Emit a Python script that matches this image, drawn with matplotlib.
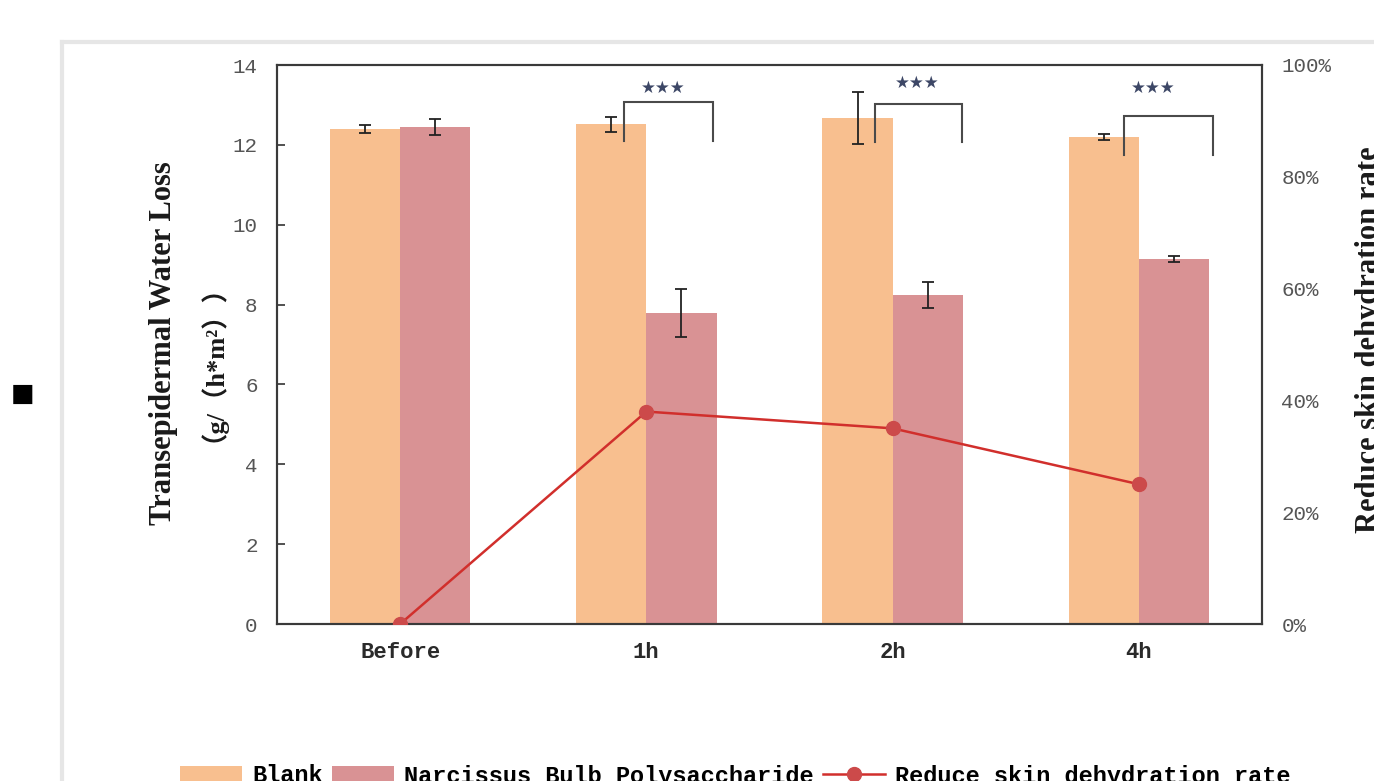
import matplotlib
matplotlib.use('Agg')
import matplotlib.pyplot as plt
import numpy as np
from matplotlib.lines import Line2D
from matplotlib.patches import Patch
from matplotlib.ticker import PercentFormatter

# ---------------- data ----------------
categories = ['Before', '1h', '2h', '4h']
blank = [12.40, 12.52, 12.67, 12.20]
blank_err = [0.10, 0.19, 0.65, 0.08]
nbp = [12.45, 7.79, 8.24, 9.14]
nbp_err = [0.20, 0.60, 0.33, 0.08]
rate = [0.0, 0.38, 0.35, 0.25]
sig_labels = ['', '★★★', '★★★', '★★★']
left_ticks = [0, 2, 4, 6, 8, 10, 12, 14]
right_ticks = [0, 0.2, 0.4, 0.6, 0.8, 1.0]
series_names = ['Blank', 'Narcissus Bulb Polysaccharide', 'Reduce skin dehydration rate']

# ---------------- layout / style ----------------
bracket_top = [None, 13.07, 13.02, 12.72]
bracket_bottom = [None, 12.10, 12.07, 11.75]
bracket_left = [None, -0.09, -0.07, -0.06]
bracket_right = [None, 0.27, 0.28, 0.30]
star_y = [None, 13.42, 13.55, 13.42]
star_dx = [None, 0.07, 0.10, 0.06]

c_blank = '#F8BF8F'
c_nbp = '#D99294'
c_line = '#D12F2C'
c_marker = '#CC4A4A'
tick_font = 'Liberation Mono'

W, H = 1374, 781
fig = plt.figure(figsize=(W / 100, H / 100), dpi=100)

ax = fig.add_axes([277 / W, 1 - 624 / H, (1262 - 277) / W, (624 - 65) / H])
x = np.arange(len(categories))
bw = 0.285

ax.bar(x - bw / 2, blank, bw, color=c_blank, zorder=2)
ax.bar(x + bw / 2, nbp, bw, color=c_nbp, zorder=2)
ax.errorbar(x - bw / 2, blank, yerr=blank_err, fmt='none', ecolor='#222222',
            elinewidth=1.3, capsize=4, capthick=1.3, zorder=3)
ax.errorbar(x + bw / 2, nbp, yerr=nbp_err, fmt='none', ecolor='#222222',
            elinewidth=1.3, capsize=4, capthick=1.3, zorder=3)

for i in range(len(categories)):
    if not sig_labels[i]:
        continue
    xl = x[i] + bracket_left[i]
    xr = x[i] + bracket_right[i]
    ax.plot([xl, xl, xr, xr], [bracket_bottom[i], bracket_top[i], bracket_top[i], bracket_bottom[i]],
            color='#4a4a4a', lw=1.5, zorder=4, solid_joinstyle='miter')
    ax.text(x[i] + star_dx[i], star_y[i], sig_labels[i], ha='center', va='center',
            fontsize=12, color='#3d4766', family='DejaVu Sans', zorder=5)

ax.set_xlim(-0.5, len(categories) - 0.5)
ax.set_ylim(0, 14)
ax.set_yticks(left_ticks)
ax.set_yticklabels([str(t) for t in left_ticks], family=tick_font, fontsize=15, color='#555555')
ax.tick_params(axis='y', direction='in', length=6, width=1.2, color='#333333', pad=14)
ax.set_xticks(x)
ax.set_xticklabels(categories, family=tick_font, fontsize=16, fontweight='bold', color='#2a2a2a')
ax.tick_params(axis='x', length=0, pad=13)
for s in ax.spines.values():
    s.set_color('#3a3a3a')
    s.set_linewidth(1.5)

ax2 = ax.twinx()
ax2.plot(x, rate, color=c_line, lw=1.8, marker='o', markersize=10,
         markerfacecolor=c_marker, markeredgecolor=c_marker, zorder=6)
ax2.set_ylim(0, 1)
ax2.set_yticks(right_ticks)
ax2.yaxis.set_major_formatter(PercentFormatter(1.0, decimals=0))
for lab in ax2.get_yticklabels():
    lab.set_family(tick_font)
    lab.set_fontsize(15)
    lab.set_color('#555555')
ax2.tick_params(axis='y', length=0, pad=14)
for s in ax2.spines.values():
    s.set_color('#3a3a3a')
    s.set_linewidth(1.5)

# axis titles
fig.text(163 / W, 1 - 343 / H, 'Transepidermal Water Loss', rotation=90, ha='center', va='center',
         family='Liberation Serif', fontweight='bold', fontsize=22, color='#1a1a1a')
fig.text(199 / W, 1 - 350 / H, '（g/（h*m²））', rotation=90, ha='center', va='center',
         family=['Liberation Serif', 'Noto Sans CJK SC'], fontweight='bold', fontsize=19, color='#1a1a1a')
fig.text(1370 / W, 1 - 340 / H, 'Reduce skin dehydration rate', rotation=90, ha='center', va='center',
         family='Liberation Serif', fontweight='bold', fontsize=22, color='#1a1a1a')

# outer frame lines (partial, as in screenshot)
fig.add_artist(Line2D([62 / W, 62 / W], [0, 1 - 42 / H], transform=fig.transFigure,
                      color='#e6e6e6', lw=3))
fig.add_artist(Line2D([62 / W, 1], [1 - 42 / H, 1 - 42 / H], transform=fig.transFigure,
                      color='#e6e6e6', lw=3))

# bullet square
fig.text(23 / W, 1 - 394 / H, '■', ha='center', va='center', fontsize=18,
         family='DejaVu Sans', color='black')

# legend
handles = [Patch(facecolor=c_blank, edgecolor='none'),
           Patch(facecolor=c_nbp, edgecolor='none'),
           Line2D([0], [0], color=c_line, lw=1.8, marker='o', markersize=10,
                  markerfacecolor=c_marker, markeredgecolor=c_marker)]
fig.legend(handles, series_names, loc='center left', bbox_to_anchor=(180 / W, 1 - 776 / H),
           ncol=3, frameon=False, borderpad=0, borderaxespad=0, handlelength=2.63,
           handletextpad=0.42, columnspacing=0.4,
           prop={'family': tick_font, 'weight': 'bold', 'size': 17})

fig.savefig('out.png', dpi=100)
